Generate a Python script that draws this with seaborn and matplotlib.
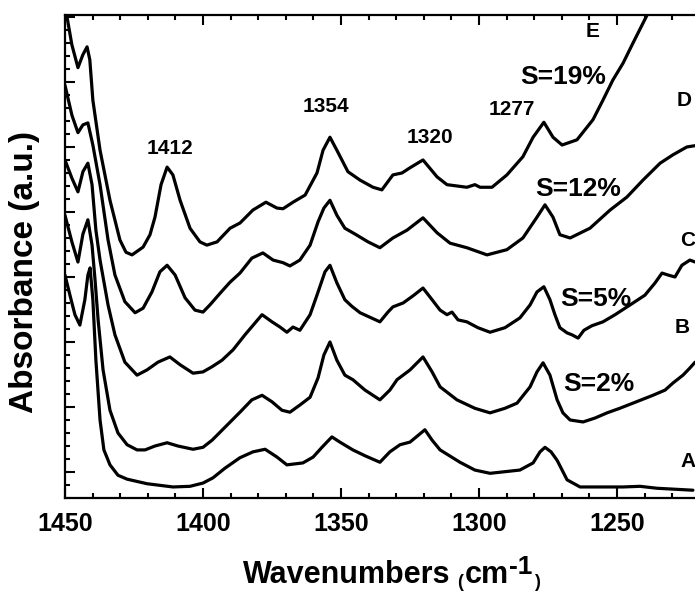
import pandas as pd
import seaborn as sns
import matplotlib.pyplot as plt
from matplotlib.ticker import MultipleLocator
from matplotlib.transforms import IdentityTransform

sns.set_theme(style='ticks')
plt.rcParams['font.family'] = ['Liberation Sans', 'DejaVu Sans']
plt.rcParams['font.weight'] = 'bold'
plt.rcParams['text.color'] = 'black'
plt.rcParams['xtick.color'] = 'black'
plt.rcParams['ytick.color'] = 'black'

# spectra (wavenumber in cm-1, absorbance in arbitrary offset units)
wn_E = [1450, 1447.5, 1445.3, 1443.5, 1442.0, 1441.0, 1439.9, 1437.3, 1433.7, 1430.1,
        1427.9, 1425.7, 1421.7, 1419.2, 1417.4, 1415.2, 1413.0, 1410.9, 1408.3, 1404.7,
        1401.1, 1398.6, 1394.9, 1390.2, 1386.6, 1381.9, 1377.2, 1373.2, 1371.0, 1367.4,
        1363.0, 1358.7, 1356.5, 1354.0, 1351.5, 1347.5, 1343.1, 1338.4, 1335.2, 1331.2,
        1327.9, 1325.0, 1320.3, 1315.2, 1311.6, 1304.4, 1301.5, 1299.6, 1295.3, 1289.9,
        1284.1, 1280.4, 1276.5, 1273.2, 1269.9, 1264.5, 1258.7, 1255.1, 1251.5, 1247.8,
        1244.2, 1239.1, 1236.2]
abs_E = [7.18, 6.57, 6.22, 6.42, 6.54, 6.34, 5.72, 4.95, 4.18, 3.57,
         3.38, 3.34, 3.46, 3.65, 3.92, 4.42, 4.69, 4.57, 4.18, 3.75,
         3.54, 3.49, 3.54, 3.75, 3.83, 4.03, 4.15, 4.06, 4.05, 4.15,
         4.26, 4.60, 4.95, 5.15, 4.95, 4.62, 4.49, 4.38, 4.34, 4.57,
         4.60, 4.68, 4.80, 4.54, 4.42, 4.38, 4.42, 4.38, 4.38, 4.57,
         4.85, 5.15, 5.38, 5.15, 5.03, 5.11, 5.42, 5.72, 6.03, 6.29,
         6.60, 7.03, 7.26]

wn_D = [1450, 1447.5, 1445.3, 1443.5, 1441.7, 1439.9, 1437.3, 1434.4, 1431.9, 1428.3,
        1424.6, 1421.7, 1418.5, 1415.6, 1413.0, 1410.1, 1406.5, 1402.9, 1400.0, 1397.5,
        1393.8, 1390.2, 1386.6, 1382.3, 1378.3, 1374.6, 1371.0, 1368.5, 1364.9, 1361.2,
        1358.3, 1356.2, 1354.0, 1351.5, 1348.6, 1344.9, 1340.2, 1335.9, 1331.2, 1326.1,
        1320.3, 1315.2, 1310.5, 1304.4, 1297.1, 1289.9, 1284.1, 1279.0, 1276.1, 1273.2,
        1270.7, 1267.0, 1259.8, 1252.5, 1246.4, 1240.6, 1234.4, 1229.7, 1224.7, 1221.7]
abs_D = [5.95, 5.49, 5.22, 5.34, 5.37, 5.03, 4.42, 3.57, 3.03, 2.62,
         2.45, 2.52, 2.77, 3.08, 3.18, 3.03, 2.68, 2.49, 2.46, 2.57,
         2.75, 2.92, 3.06, 3.29, 3.37, 3.26, 3.22, 3.17, 3.26, 3.49,
         3.85, 4.06, 4.18, 3.95, 3.75, 3.66, 3.54, 3.45, 3.60, 3.72,
         3.91, 3.68, 3.52, 3.45, 3.34, 3.42, 3.60, 3.92, 4.11, 3.92,
         3.65, 3.60, 3.75, 4.03, 4.23, 4.49, 4.75, 4.88, 5.00, 5.02]

wn_C = [1450, 1447.5, 1445.3, 1443.5, 1441.7, 1440.2, 1438.8, 1437.3, 1434.4, 1431.9,
        1428.3, 1423.9, 1420.3, 1416.3, 1412.0, 1408.3, 1403.6, 1400.0, 1396.7, 1393.1,
        1389.1, 1384.8, 1378.6, 1375.0, 1372.1, 1369.6, 1367.4, 1364.9, 1361.2, 1358.3,
        1355.8, 1354.0, 1351.5, 1348.6, 1346.1, 1343.1, 1339.5, 1335.9, 1333.0, 1331.2,
        1327.5, 1323.9, 1320.3, 1317.0, 1314.1, 1311.6, 1309.8, 1307.6, 1304.4, 1300.4,
        1296.0, 1290.6, 1285.2, 1281.5, 1279.0, 1276.5, 1274.3, 1272.5, 1270.7, 1268.1,
        1266.3, 1264.1, 1262.0, 1259.1, 1255.1, 1250.7, 1244.2, 1239.9, 1236.2, 1233.7,
        1231.5, 1229.0, 1226.5, 1223.6, 1221.7]
abs_C = [4.80, 4.52, 4.31, 4.62, 4.75, 4.42, 3.72, 3.26, 2.57, 2.11,
         1.69, 1.49, 1.57, 1.69, 1.77, 1.65, 1.52, 1.54, 1.62, 1.72,
         1.88, 2.11, 2.42, 2.31, 2.23, 2.15, 2.23, 2.18, 2.42, 2.77,
         3.08, 3.18, 2.91, 2.65, 2.55, 2.45, 2.38, 2.31, 2.46, 2.54,
         2.60, 2.71, 2.83, 2.65, 2.49, 2.42, 2.46, 2.34, 2.31, 2.22,
         2.15, 2.22, 2.37, 2.57, 2.77, 2.85, 2.65, 2.42, 2.22, 2.14,
         2.11, 2.06, 2.18, 2.25, 2.31, 2.42, 2.60, 2.72, 2.91, 3.06,
         3.03, 3.00, 3.18, 3.26, 3.23]

wn_B = [1450, 1447.5, 1445.3, 1443.5, 1441.7, 1440.2, 1439.1, 1438.0, 1436.2, 1433.7,
        1430.8, 1427.5, 1423.9, 1421.0, 1417.4, 1413.0, 1409.1, 1403.6, 1400.0, 1396.7,
        1391.3, 1386.6, 1382.3, 1378.6, 1375.0, 1371.4, 1368.5, 1364.9, 1361.2, 1358.3,
        1356.2, 1354.0, 1351.5, 1348.6, 1345.7, 1341.3, 1335.9, 1332.3, 1329.7, 1325.0,
        1320.3, 1317.0, 1314.1, 1308.0, 1301.5, 1296.0, 1290.6, 1286.2, 1281.5, 1279.0,
        1276.8, 1274.3, 1271.7, 1269.6, 1267.0, 1262.3, 1258.0, 1253.6, 1249.0, 1244.2,
        1237.0, 1232.6, 1229.7, 1226.1, 1223.6, 1221.7]
abs_B = [3.95, 3.54, 3.23, 3.66, 3.88, 3.49, 2.95, 2.34, 1.57, 0.95,
         0.60, 0.42, 0.34, 0.34, 0.40, 0.45, 0.40, 0.35, 0.38, 0.49,
         0.72, 0.92, 1.11, 1.18, 1.08, 0.95, 0.92, 1.03, 1.15, 1.45,
         1.80, 2.00, 1.72, 1.49, 1.42, 1.26, 1.11, 1.26, 1.42, 1.57,
         1.77, 1.54, 1.31, 1.11, 0.98, 0.91, 0.98, 1.06, 1.31, 1.54,
         1.68, 1.49, 1.11, 0.91, 0.80, 0.77, 0.83, 0.91, 0.98, 1.06,
         1.18, 1.26, 1.37, 1.49, 1.60, 1.69]

wn_A = [1450, 1448.2, 1446.4, 1444.6, 1442.8, 1441.7, 1440.9, 1439.9, 1438.8, 1437.3,
        1435.9, 1433.7, 1430.8, 1427.5, 1420.3, 1410.9, 1404.7, 1400.0, 1396.4, 1392.0,
        1386.6, 1381.9, 1377.5, 1373.2, 1369.6, 1363.8, 1360.1, 1356.9, 1353.3, 1350.4,
        1345.7, 1341.3, 1335.9, 1332.3, 1328.6, 1325.0, 1319.6, 1317.0, 1314.1, 1306.9,
        1301.5, 1296.0, 1285.2, 1280.4, 1277.9, 1276.1, 1273.9, 1271.7, 1268.1, 1263.4,
        1253.6, 1247.8, 1241.7, 1235.5, 1222.5]
abs_A = [3.03, 2.72, 2.42, 2.26, 2.65, 3.03, 3.14, 2.65, 1.72, 0.80,
         0.34, 0.11, -0.05, -0.11, -0.18, -0.23, -0.22, -0.17, -0.09, 0.06,
         0.22, 0.31, 0.35, 0.23, 0.11, 0.14, 0.23, 0.38, 0.54, 0.46,
         0.34, 0.25, 0.15, 0.31, 0.42, 0.46, 0.65, 0.49, 0.34, 0.15,
         0.03, -0.02, 0.03, 0.14, 0.31, 0.38, 0.31, 0.18, -0.12, -0.23,
         -0.23, -0.23, -0.22, -0.25, -0.28]

peak_labels = ['1412', '1354', '1320', '1277']
peak_x = [1412.0, 1355.4, 1317.8, 1288.0]
peak_y = [4.98, 5.62, 5.15, 5.58]

s_labels = ['S=19%', 'S=12%', 'S=5%', 'S=2%']
s_x = [1269.6, 1264.1, 1257.6, 1256.7]
s_y = [6.08, 4.35, 2.66, 1.36]

curve_labels = ['E', 'D', 'C', 'B', 'A']
curve_x = [1261.5, 1228.3, 1227.0, 1229.0, 1227.0]
curve_y = [6.78, 5.72, 3.56, 2.22, 0.16]

frames = []
for name, wn, ab in [('A', wn_A, abs_A), ('B', wn_B, abs_B), ('C', wn_C, abs_C),
                     ('D', wn_D, abs_D), ('E', wn_E, abs_E)]:
    frames.append(pd.DataFrame({'wavenumber': wn, 'absorbance': ab, 'sample': name}))
df = pd.concat(frames, ignore_index=True)

fig = plt.figure(figsize=(6.95, 5.95), dpi=100)
ax = fig.add_axes([0.0935, 0.163, 0.9333, 0.8118])
sns.lineplot(data=df, x='wavenumber', y='absorbance', units='sample', estimator=None,
             color='black', linewidth=2.3, sort=False, ax=ax)
for line in ax.lines:
    line.set_solid_joinstyle('round')
    line.set_solid_capstyle('round')

ax.set_xlim(1450, 1215)
ax.set_ylim(-0.40, 7.03)
ax.set_xlabel('')
ax.set_ylabel('')
ax.xaxis.set_major_locator(MultipleLocator(50))
ax.xaxis.set_minor_locator(MultipleLocator(10))
ax.yaxis.set_major_locator(MultipleLocator(1))
ax.yaxis.set_minor_locator(MultipleLocator(0.2))
ax.tick_params(which='both', direction='in', top=True, right=False, width=1.5,
               color='black', labelleft=False)
ax.tick_params(which='major', length=7)
ax.tick_params(which='minor', length=3.5)
ax.tick_params(axis='x', labelsize=18, pad=10, labelcolor='black')
for lab in ax.get_xticklabels():
    lab.set_fontweight('bold')
for sp in ax.spines.values():
    sp.set_linewidth(1.6)
    sp.set_color('black')

for t, x, y in zip(peak_labels, peak_x, peak_y):
    ax.text(x, y, t, fontsize=15, ha='center', va='center', color='black')
for t, x, y in zip(s_labels, s_x, s_y):
    ax.text(x, y, t, fontsize=19, ha='center', va='center', color='black')
for t, x, y in zip(curve_labels, curve_x, curve_y):
    ax.text(x, y, t, fontsize=15, ha='left', va='center', color='black')

fig.text(25 / 695, 1 - 272 / 595, 'Absorbance (a.u.)', rotation=90,
         ha='center', va='center', fontsize=24, color='black')

# x label built from pieces: small parentheses, large superscript
renderer = fig.canvas.get_renderer()
x_px, base = 243, 595 - 583
for s, size, dx, dy in [('Wavenumbers', 22, 0, 0), ('(', 13, 7, -4), ('cm', 22, 1, 0),
                        ('-1', 19, 1, 9), (')', 13, 1, -4)]:
    t = fig.text(x_px + dx, base + dy, s, fontsize=size, ha='left', va='baseline',
                 color='black', transform=IdentityTransform())
    x_px = t.get_window_extent(renderer).x1

fig.savefig('out.png', dpi=100)
